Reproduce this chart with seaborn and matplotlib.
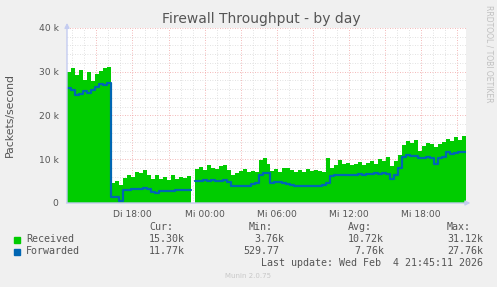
import numpy as np
import pandas as pd
import matplotlib
matplotlib.use("Agg")
import matplotlib.pyplot as plt
import seaborn as sns

# ---- data (packets/second, in thousands), one value per ~20 min, Tue 12:33 -> Wed 21:45
received = [30.0, 30.9, 29.2, 30.4, 28.0, 29.9, 27.8, 29.6, 30.2, 30.8, 31.1,
            4.5, 5.0, 4.2, 5.8, 6.5, 6.0, 7.2, 6.8, 7.6, 6.3,
            5.6, 6.4, 5.4, 6.0, 5.2, 6.3, 5.5, 6.0, 5.8, 6.2,
            np.nan, 7.8, 8.3, 7.6, 8.6, 8.0, 7.7, 8.4, 8.7, 7.5,
            6.5, 6.8, 7.3, 7.8, 7.0, 7.4, 7.2, 9.8, 10.2, 9.0,
            7.4, 7.8, 7.0, 7.9, 8.0, 7.6, 7.2, 7.5, 7.0, 7.8,
            7.3, 7.6, 7.4, 7.2, 10.3, 8.0, 8.7, 9.8, 8.9, 9.2,
            8.6, 9.0, 9.4, 8.8, 9.2, 9.6, 9.0, 10.0, 9.6, 10.5,
            8.5, 9.6, 11.0, 13.2, 14.2, 13.8, 14.3, 12.0, 13.0, 13.8,
            13.4, 12.8, 13.5, 14.0, 14.6, 14.2, 15.0, 14.5, 15.3]
forwarded = [26.2, 25.8, 24.6, 25.0, 25.6, 25.2, 25.8, 26.6, 27.3, 27.0, 27.5,
             1.4, 1.4, 0.53, 3.0, 3.0, 3.1, 3.2, 3.3, 3.4, 3.3,
             2.6, 2.4, 2.7, 2.7, 2.8, 2.8, 2.9, 2.9, 3.0, 3.0,
             np.nan, 5.0, 5.1, 5.3, 5.0, 5.2, 5.1, 5.0, 5.2, 4.8,
             4.0, 3.9, 3.9, 4.0, 4.0, 4.3, 4.5, 6.3, 6.8, 6.9,
             4.6, 4.7, 4.8, 4.5, 4.3, 4.2, 4.0, 4.0, 3.9, 4.0,
             3.8, 3.9, 4.0, 4.1, 4.5, 6.2, 6.4, 6.3, 6.5, 6.5,
             6.4, 6.5, 6.6, 6.5, 6.7, 6.6, 6.8, 6.7, 6.8, 6.6,
             5.6, 6.4, 8.0, 10.5, 10.9, 10.7, 10.8, 10.2, 10.4, 10.5,
             10.3, 9.0, 10.2, 10.6, 11.6, 11.2, 11.5, 11.7, 11.77]

t_start, t_end = 12.55, 45.75          # hours since Tue 00:00
tick_hours = [18, 24, 30, 36, 42]
tick_labels = ["Di 18:00", "Mi 00:00", "Mi 06:00", "Mi 12:00", "Mi 18:00"]
legend_names = ["Received", "Forwarded"]
stats = {"Cur:": ["15.30k", "11.77k"],
         "Min:": ["3.76k", "529.77"],
         "Avg:": ["10.72k", "7.76k"],
         "Max:": ["31.12k", "27.76k"]}
GREEN, BLUE = "#00CC00", "#0066B3"

# ---- figure
sns.set_style("white")
plt.rcParams["font.family"] = ["DejaVu Sans"]
W, H = 497, 287
fig = plt.figure(figsize=(W / 100, H / 100), dpi=100, facecolor="#F0F0F0")
ax = fig.add_axes([67 / W, 1 - 203 / H, 399 / W, 175 / H])
ax.set_facecolor("white")

edges = np.linspace(t_start, t_end, len(received) + 1)
rec = np.array(received) * 1000
fwd = np.array(forwarded) * 1000

ax.stairs(rec, edges, fill=True, color=GREEN, lw=0, zorder=2, baseline=0)

# step line for Forwarded: each sample held over its interval, broken at gaps
seg = np.cumsum(np.isnan(fwd))
df = pd.DataFrame({
    "t": np.ravel(np.column_stack([edges[:-1], edges[1:]])),
    "fwd": np.repeat(fwd, 2),
    "seg": np.repeat(seg, 2),
}).dropna()
sns.lineplot(data=df, x="t", y="fwd", units="seg", estimator=None, color=BLUE,
             lw=1.6, ax=ax, zorder=3, legend=False, sort=False)

ax.set_xlim(t_start, t_end)
ax.set_ylim(0, 40000)

# grid
for h in np.arange(13, 46, 1):
    major = (h % 3 == 0)
    ax.axvline(h, color="#f0a0a0" if major else "#d8d8d8", lw=0.6,
               ls=(0, (1, 2)), zorder=1)
for v in range(2000, 40001, 2000):
    major = (v % 10000 == 0)
    ax.axhline(v, color="#f0a0a0" if major else "#d8d8d8", lw=0.6,
               ls=(0, (1, 2)), zorder=1)

ax.set_xticks(tick_hours)
ax.set_xticklabels(tick_labels)
ax.set_xticks(np.arange(15, 46, 3), minor=True)
ax.set_yticks([0, 10000, 20000, 30000, 40000])
ax.set_yticklabels(["0", "10 k", "20 k", "30 k", "40 k"])
ax.tick_params(axis="both", which="both", labelsize=6.6, labelcolor="#555555",
               length=2, color="#f08080", pad=3)
ax.tick_params(axis="y", length=0, pad=6)
ax.set_xlabel("")
ax.set_ylabel("")
for s in ax.spines.values():
    s.set_visible(False)

axis_col = "#c4ccf0"
ax.annotate("", xy=(0, 1.045), xytext=(0, -0.015), xycoords="axes fraction",
            arrowprops=dict(arrowstyle="-|>", color=axis_col, lw=1, mutation_scale=7),
            annotation_clip=False)
ax.annotate("", xy=(1.018, 0), xytext=(-0.008, 0), xycoords="axes fraction",
            arrowprops=dict(arrowstyle="-|>", color=axis_col, lw=1, mutation_scale=7),
            annotation_clip=False)

# texts
def fx(px):
    return px / W

def fy(py):
    return 1 - py / H

fig.text(fx(261), fy(19), "Firewall Throughput - by day", ha="center", va="center",
         fontsize=10, color="#555555")
fig.text(fx(10), fy(115), "Packets/second", rotation=90, ha="center", va="center",
         fontsize=7.8, color="#555555")
fig.text(fx(489), fy(54), "RRDTOOL / TOBI OETIKER", rotation=270, ha="center",
         va="center", fontsize=5.5, color="#c0c0c0")

mono = "DejaVu Sans Mono"
fs = 7.2
col_x = [149, 249, 348, 447]
for x, key in zip(col_x, stats):
    fig.text(fx(x), fy(227), key, family=mono, fontsize=fs, color="#555555",
             va="center")
row_y = [239.5, 251.5]
val_x = [[149, 254, 348, 447], [149, 243, 354, 447]]
for r, (name, c) in enumerate(zip(legend_names, [GREEN, BLUE])):
    fig.patches.append(plt.Rectangle((fx(14), fy(row_y[r] + 3)), 6 / W, 6 / H,
                                     transform=fig.transFigure, color=c))
    fig.text(fx(26), fy(row_y[r]), name, family=mono, fontsize=fs,
             color="#555555", va="center")
    for j, key in enumerate(stats):
        fig.text(fx(val_x[r][j]), fy(row_y[r]), stats[key][r], family=mono,
                 fontsize=fs, color="#555555", va="center")
fig.text(fx(483), fy(263.5), "Last update: Wed Feb  4 21:45:11 2026", family=mono,
         fontsize=fs, color="#555555", va="center", ha="right")
fig.text(fx(248), fy(276.5), "Munin 2.0.75", fontsize=5, color="#c8c8c8",
         va="center", ha="center")

fig.savefig("out.png", dpi=100, facecolor=fig.get_facecolor())
